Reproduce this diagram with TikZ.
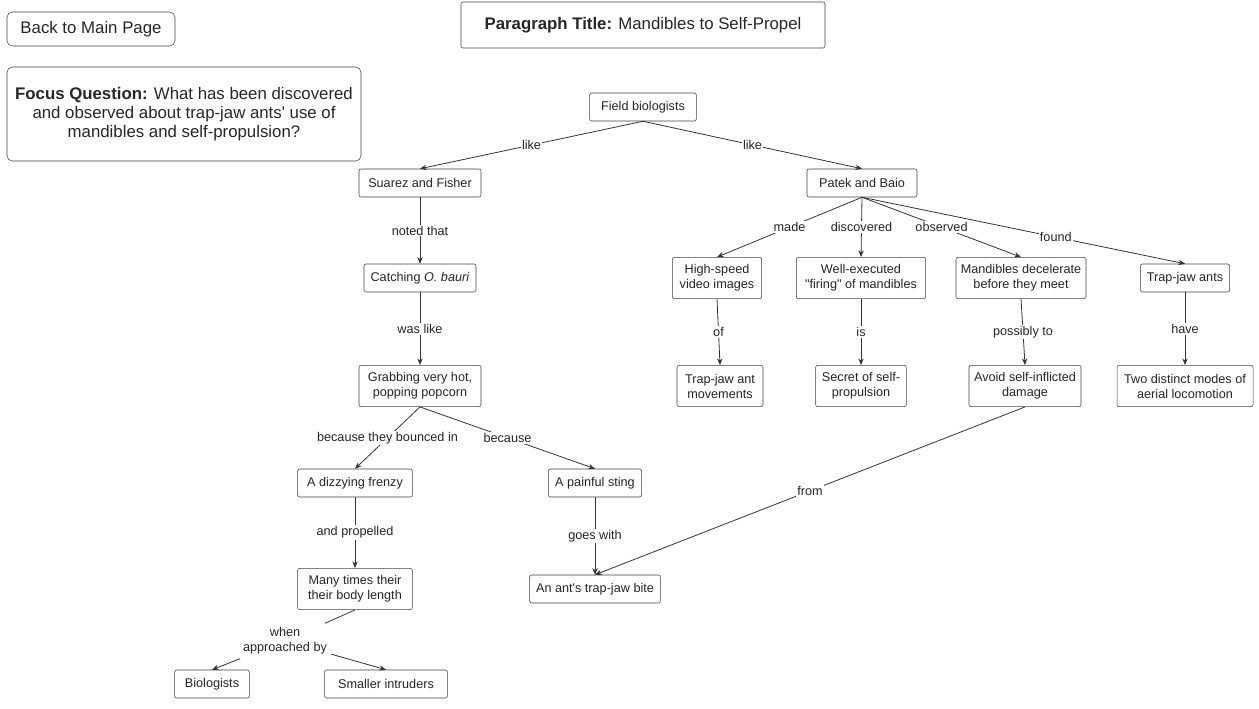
\documentclass[tikz,border=0pt]{standalone}
\usepackage{fontspec}
\setmainfont{Liberation Sans}[Ligatures=TeXOff]
\usetikzlibrary{arrows.meta}

\begin{document}
\begin{tikzpicture}[x=0.75pt,y=-0.75pt,
  concept/.style={draw=black!75,rounded corners=1.5pt,fill=white,align=center,
    font=\fontsize{9.5}{11.2}\selectfont,text=black!85,inner sep=2pt,minimum height=21pt},
  twoline/.style={concept,minimum height=31pt},
  bigbox/.style={draw=black!75,rounded corners=4pt,align=center,
    font=\fontsize{12.6}{14.4}\selectfont,text=black!85},
  link/.style={fill=white,font=\fontsize{9.5}{11.2}\selectfont,text=black!85,inner sep=1pt},
  ln/.style={draw=black!80,line width=0.6pt},
  arr/.style={ln,-{Stealth[length=5pt,width=4pt]}}]
\useasboundingbox (0,0) rectangle (1259,708);

% header boxes
\node[bigbox,minimum width=126pt,minimum height=25.5pt] (back) at (91,29) {Back to Main Page};
\node[bigbox,minimum width=265.5pt,minimum height=70.5pt] (focus) at (184,114)
  {\textbf{Focus Question:} What has been discovered\\and observed about trap-jaw ants' use of\\mandibles and self-propulsion?};
\node[bigbox,rounded corners=1.5pt,minimum width=273pt,minimum height=34.5pt] (title) at (643,25)
  {\textbf{Paragraph Title:} Mandibles to Self-Propel};

% concepts
\node[concept,minimum width=80pt] (field) at (643,107) {Field biologists};
\node[concept,minimum width=91.5pt] (suarez) at (420,183) {Suarez and Fisher};
\node[concept,minimum width=82.5pt] (patek) at (862,183) {Patek and Baio};
\node[concept,minimum width=84pt] (catch) at (420,278) {Catching \textit{O. bauri}};
\node[twoline,minimum width=91.5pt] (grab) at (420,386) {Grabbing very hot,\\popping popcorn};
\node[concept,minimum width=86pt] (frenzy) at (355,483) {A dizzying frenzy};
\node[concept,minimum width=70pt] (sting) at (595,483) {A painful sting};
\node[twoline,minimum width=86pt] (many) at (355,589) {Many times their\\their body length};
\node[concept,minimum width=98pt] (bite) at (595,589) {An ant's trap-jaw bite};
\node[concept,minimum width=56pt] (bio) at (212,684) {Biologists};
\node[concept,minimum width=92pt] (small) at (386,684) {Smaller intruders};
\node[twoline,minimum width=67pt] (video) at (717,278) {High-speed\\video images};
\node[twoline,minimum width=97pt] (firing) at (861,278) {Well-executed\\"firing" of mandibles};
\node[twoline,minimum width=97.5pt] (decel) at (1021,278) {Mandibles decelerate\\before they meet};
\node[concept,minimum width=67pt] (ants) at (1185,278) {Trap-jaw ants};
\node[twoline,minimum width=64.5pt] (moves) at (720,386) {Trap-jaw ant\\movements};
\node[twoline,minimum width=68pt] (secret) at (861,386) {Secret of self-\\propulsion};
\node[twoline,minimum width=84pt] (avoid) at (1025,386) {Avoid self-inflicted\\damage};
\node[twoline,minimum width=102pt] (modes) at (1185,386) {Two distinct modes of\\aerial locomotion};

% shared linking phrase
\node[link,align=center,inner sep=3pt] (when) at (285,641) {when\\approached by};

% connectors
\draw[arr] (field.south) -- node[link] {like} (suarez.north);
\draw[arr] (field.south) -- node[link] {like} (patek.north);
\draw[arr] (suarez.south) -- node[link] {noted that} (catch.north);
\draw[arr] (catch.south) -- node[link] {was like} (grab.north);
\draw[arr] (grab.south) -- node[link] {because they bounced in} (frenzy.north);
\draw[arr] (grab.south) -- node[link] {because} (sting.north);
\draw[arr] (frenzy.south) -- node[link] {and propelled} (many.north);
\draw[arr] (sting.south) -- node[link] {goes with} (bite.north);
\draw[ln] (many.south) -- (when);
\draw[arr] (when) -- (bio.north);
\draw[arr] (when) -- (small.north);
\draw[arr] (patek.south) -- node[link] {made} (video.north);
\draw[arr] (patek.south) -- node[link] {discovered} (firing.north);
\draw[arr] (patek.south) -- node[link] {observed} (decel.north);
\draw[arr] (patek.south) -- node[link,pos=0.6] {found} (ants.north);
\draw[arr] (video.south) -- node[link] {of} (moves.north);
\draw[arr] (firing.south) -- node[link] {is} (secret.north);
\draw[arr] (decel.south) -- node[link] {possibly to} (avoid.north);
\draw[arr] (ants.south) -- node[link] {have} (modes.north);
\draw[arr] (avoid.south) -- node[link] {from} (bite.north);
\end{tikzpicture}
\end{document}
